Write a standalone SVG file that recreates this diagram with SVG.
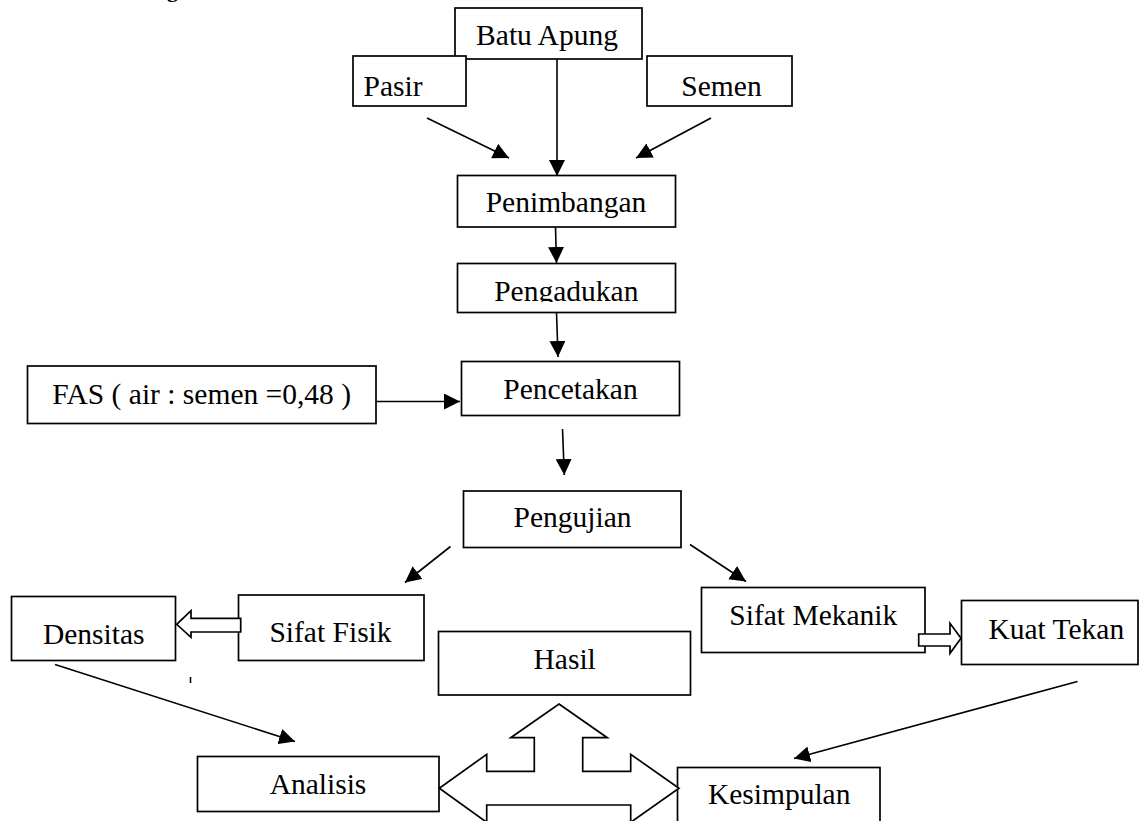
<svg xmlns="http://www.w3.org/2000/svg" width="1140" height="821" viewBox="0 0 1140 821">
<style>
.box{fill:#fff;stroke:#000;stroke-width:1.7}
.t{font-family:"Liberation Serif","Times New Roman",serif;font-size:29.5px;fill:#000;text-anchor:middle}
.ln{stroke:#000;stroke-width:1.6;fill:none}
.hol{fill:#fff;stroke:#000;stroke-width:1.7;stroke-linejoin:miter}
</style>
<defs>
<marker id="ah" markerUnits="userSpaceOnUse" markerWidth="16" markerHeight="16" viewBox="0 0 16 16" refX="16" refY="8" orient="auto">
<path d="M0,0 L16,8 L0,16 Z" fill="#000"/>
</marker>
<clipPath id="clipPeng"><rect x="458" y="264" width="217" height="38"/></clipPath>
</defs>
<rect width="1140" height="821" fill="#fff"/>
<text x="167" y="-3" font-family="Liberation Serif,serif" font-weight="bold" font-size="22">gram</text>

<g id="connectors">
<line class="ln" x1="557" y1="59" x2="557" y2="176" marker-end="url(#ah)"/>
<line class="ln" x1="427" y1="118" x2="509" y2="158" marker-end="url(#ah)"/>
<line class="ln" x1="711" y1="118" x2="636" y2="158" marker-end="url(#ah)"/>
<line class="ln" x1="555.5" y1="227" x2="556.5" y2="263" marker-end="url(#ah)"/>
<line class="ln" x1="556.5" y1="312" x2="558" y2="357" marker-end="url(#ah)"/>
<line class="ln" x1="376" y1="401.5" x2="460" y2="401.5" marker-end="url(#ah)"/>
<line class="ln" x1="562.5" y1="429" x2="564.3" y2="475" marker-end="url(#ah)"/>
<line class="ln" x1="450.5" y1="546.5" x2="405" y2="582.5" marker-end="url(#ah)"/>
<line class="ln" x1="690" y1="544.5" x2="746" y2="581.5" marker-end="url(#ah)"/>
<line class="ln" x1="55" y1="664.5" x2="295" y2="741.5" marker-end="url(#ah)"/>
<line class="ln" x1="1077.5" y1="681.5" x2="794" y2="758.5" marker-end="url(#ah)"/>
<line class="ln" x1="190.5" y1="677" x2="190.5" y2="683"/>
</g>

<g id="batu-apung"><rect class="box" x="455" y="8" width="187" height="51"/><text class="t" x="547" y="45">Batu Apung</text></g>
<g id="pasir"><rect class="box" x="353" y="56" width="113" height="50"/><text class="t" x="393" y="96">Pasir</text></g>
<g id="semen"><rect class="box" x="647" y="56" width="145" height="50"/><text class="t" x="721.5" y="96">Semen</text></g>
<g id="penimbangan"><rect class="box" x="457.5" y="175.5" width="218" height="51.5"/><text class="t" x="566" y="212">Penimbangan</text></g>
<g id="pengadukan"><rect class="box" x="457.5" y="263.5" width="218" height="49"/><text class="t" x="566.3" y="301" clip-path="url(#clipPeng)">Pengadukan</text></g>
<g id="fas"><rect class="box" x="27.5" y="366" width="348.5" height="57.5"/><text class="t" x="201.7" y="403.5">FAS ( air : semen =0,48 )</text></g>
<g id="pencetakan"><rect class="box" x="461.5" y="361.5" width="218" height="54"/><text class="t" x="570.5" y="398.5">Pencetakan</text></g>
<g id="pengujian"><rect class="box" x="463.5" y="491" width="217.5" height="56.5"/><text class="t" x="572.5" y="527">Pengujian</text></g>
<g id="densitas"><rect class="box" x="11.5" y="596.5" width="164" height="64"/><text class="t" x="93.7" y="643.5">Densitas</text></g>
<g id="sifat-fisik"><rect class="box" x="238.5" y="595" width="185.5" height="65.5"/><text class="t" x="330.5" y="642">Sifat Fisik</text></g>
<g id="sifat-mekanik"><rect class="box" x="701.5" y="587.5" width="223.5" height="65"/><text class="t" x="813.3" y="624.5">Sifat Mekanik</text></g>
<g id="kuat-tekan"><rect class="box" x="961.5" y="600.5" width="176.5" height="64"/><text class="t" x="1056.3" y="638.5">Kuat Tekan</text></g>
<g id="hasil"><rect class="box" x="438.5" y="631.5" width="252" height="63.5"/><text class="t" x="564.7" y="668.5">Hasil</text></g>
<g id="analisis"><rect class="box" x="197.5" y="756.5" width="241.5" height="55"/><text class="t" x="318" y="793.5">Analisis</text></g>
<g id="kesimpulan"><rect class="box" x="677.5" y="767.5" width="202.5" height="55"/><text class="t" x="779.2" y="804">Kesimpulan</text></g>

<g id="hollow-arrows">
<polygon class="hol" points="240.7,618.3 191,618.3 191,610.7 176.7,624.3 191,637.3 191,632 240.7,632"/>
<polygon class="hol" points="918.7,634 950,634 950,623.3 961,638.3 950,653.3 950,646 918.7,646"/>
<polygon class="hol" points="559,704 607.3,737.7 582.7,737.7 582.7,771.3 630.7,771.3 630.7,754.3 679,788.3 630.7,822.3 630.7,805 486.7,805 486.7,822.3 439.3,788.3 486.7,754.3 486.7,771.3 534.3,771.3 534.3,737.7 510.7,737.7"/>
</g>
</svg>
